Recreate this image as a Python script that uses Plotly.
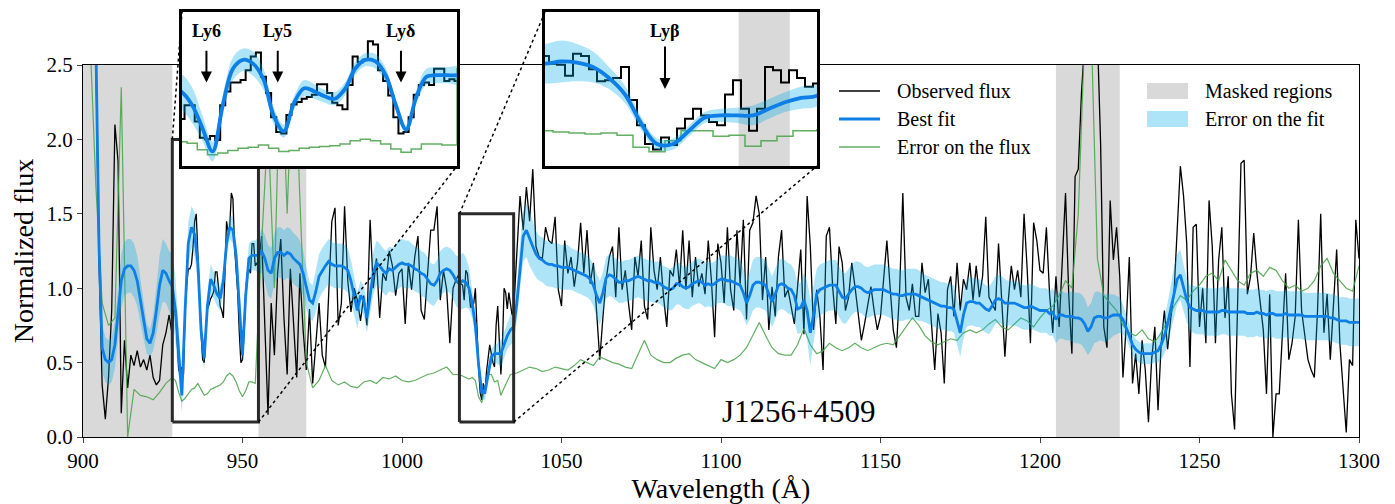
import numpy as np
import plotly.graph_objects as go

# ---------------- data ----------------
# observed flux: 1 A sampling, 0.5 A inside the two zoomed windows
flux_wave = np.concatenate([
    np.arange(900, 928, 1.0), np.arange(928, 955, 0.5), np.arange(955, 1018, 1.0),
    np.arange(1018, 1035, 0.5), np.arange(1035, 1301, 1.0)])
observed_flux = [
    # 900-927
    3.0, 3.0, 3.0, 3.0, 2.6, 1.2, 0.35, 0.12, 0.4, 0.85,
    2.1, 1.85, 0.16, 0.65, 0.33, 0.55, 0.48, 0.58, 0.47, 0.52,
    0.45, 0.55, 0.4, 0.35, 0.38, 0.62, 0.7, 0.82,
    # 928-954.5 (0.5 A)
    0.68, 0.85, 0.85, 0.65, 0.45, 0.43, 0.47, 0.42, 0.85, 1.02,
    1.13, 1.13, 1.16, 1.28, 1.45, 1.5, 1.2, 1.0, 0.7, 0.52,
    0.5, 0.73, 0.86, 0.89, 0.93, 0.95, 0.98, 1.11, 1.11, 1.0,
    0.88, 0.85, 0.8, 1.1, 1.45, 1.38, 1.41, 1.64, 1.6, 1.28,
    1.15, 0.97, 0.7, 0.5, 0.52, 0.7, 0.98, 1.1, 1.13, 1.1,
    1.3, 1.3, 1.15, 1.17,
    # 955-1017
    1.15, 1.35, 0.75, 0.15, 0.9,
    0.55, 1.1, 1.33, 0.8, 0.42, 1.13, 0.8, 0.4, 1.1, 0.72,
    0.45, 0.86, 0.36, 0.65, 0.9, 0.55, 0.47, 0.95, 1.45, 1.54,
    0.75, 0.9, 1.55, 1.05, 0.84, 1.0, 0.92, 0.78, 0.95, 0.75,
    1.46, 1.0, 1.2, 0.8, 1.1, 1.05, 1.25, 1.15, 0.95, 1.1,
    1.13, 0.76, 1.17, 0.99, 1.21, 1.35, 0.85, 0.79, 1.12, 1.39,
    1.39, 1.55, 0.92, 1.12, 0.99, 0.63, 1.0, 1.06,
    # 1018-1034.5 (0.5 A)
    1.1, 1.03, 1.02, 0.92, 1.12, 1.1, 0.98, 0.87, 0.88, 0.9,
    1.0, 0.7, 0.47, 0.3, 0.25, 0.36, 0.29, 0.44, 0.53, 0.62,
    0.56, 0.5, 0.47, 0.75, 0.88, 0.62, 0.42, 0.62, 1.0, 0.97,
    0.86, 0.97, 0.9, 0.82,
    # 1035-1300
    0.85, 1.21, 1.62, 1.39, 1.68,
    1.45, 1.8, 1.28, 1.21, 1.2, 1.41, 1.32, 1.3, 1.48, 0.99,
    0.88, 1.32, 1.1, 1.21, 1.01, 1.17, 1.44, 1.1, 1.39, 1.03,
    1.17, 0.81, 0.52, 0.81, 1.06, 1.21, 1.28, 0.94, 1.41, 0.99,
    1.12, 0.9, 0.72, 1.21, 1.08, 1.32, 0.88, 0.79, 1.41, 1.12,
    0.99, 1.21, 0.94, 0.74, 1.12, 1.08, 1.26, 1.01, 1.39, 0.99,
    1.32, 0.94, 1.21, 1.01, 1.1, 0.96, 1.32, 1.05, 0.67, 1.3,
    1.17, 0.9, 1.41, 0.99, 0.85, 1.39, 1.03, 1.46, 0.79, 1.39,
    1.44, 1.62, 1.5, 0.92, 1.21, 0.72, 1.01, 0.81, 1.21, 1.39,
    0.94, 0.99, 0.88, 0.76, 1.01, 1.26, 0.69, 1.62, 1.28, 0.72,
    0.99, 0.81, 0.45, 1.35, 1.41, 1.01, 0.76, 1.28, 1.17, 0.85,
    0.94, 1.17, 1.01, 0.81, 0.65, 0.76, 0.9, 1.01, 0.85, 0.72,
    0.81, 1.06, 1.32, 1.01, 0.72, 0.6, 0.99, 1.64, 0.94, 0.85,
    1.03, 0.81, 0.81, 1.17, 0.97, 1.06, 0.72, 0.45, 0.83, 0.7,
    0.36, 0.99, 1.08, 0.81, 1.17, 0.85, 1.06, 0.99, 1.17, 0.92,
    1.15, 0.94, 1.08, 1.48, 0.94, 0.9, 0.85, 1.3, 0.94, 0.54,
    0.9, 1.15, 0.99, 1.12, 0.94, 1.5, 1.12, 0.63, 1.44, 1.32,
    1.12, 1.1, 1.41, 0.96, 0.7, 1.08, 0.74, 1.19, 1.64, 0.96,
    0.56, 1.75, 1.8, 2.31, 2.7, 3.0, 3.0, 3.0, 2.7, 1.97,
    0.74, 0.6, 1.59, 1.19, 1.41, 1.08, 0.4, 0.74, 1.21, 0.36,
    0.56, 0.29, 0.65, 0.45, 0.1, 0.52, 0.74, 0.18, 0.63, 0.85,
    0.59, 0.8, 0.96, 1.41, 1.82, 1.62, 1.3, 0.47, 1.41, 1.43,
    0.74, 1.0, 0.63, 1.59, 1.28, 0.63, 1.19, 1.41, 0.8, 1.08,
    0.29, 0.05, 0.96, 1.84, 1.86, 0.96, 1.08, 1.37, 1.1, 0.92,
    0.72, 0.29, 0.96, 0.0, 0.29, 0.29, 0.74, 1.1, 0.52, 0.63,
    0.81, 1.46, 0.85, 0.7, 0.52, 0.45, 0.4, 0.85, 1.5, 0.7,
    0.96, 0.52, 0.92, 1.26, 0.63, 0.34, 0.03, 0.52, 0.48, 1.46,
    1.2,
]

# best fit and its error: 1 A sampling
wave = np.arange(900, 1301, 1.0)
best_fit = [
    3.0, 3.0, 3.0, 3.0, 2.7, 1.3, 0.6, 0.52, 0.5, 0.52,
    0.62, 0.85, 1.05, 1.13, 1.15, 1.15, 1.12, 1.05, 0.92, 0.78,
    0.66, 0.63, 0.7, 0.85, 1.02, 1.12, 1.1, 1.05, 1.01, 0.85,
    0.57, 0.28, 0.85, 1.3, 1.41, 1.36, 1.17, 0.72, 0.53, 0.88,
    1.06, 1.02, 0.96, 0.93, 1.05, 1.3, 1.41, 1.39, 1.22, 0.85,
    0.55, 0.95, 1.2, 1.22, 1.22, 1.22, 1.25, 1.2, 1.12, 1.1,
    1.2, 1.24, 1.24, 1.22, 1.24, 1.23, 1.2, 1.18, 1.16, 1.1,
    1.0, 0.92, 0.9, 0.98, 1.08, 1.12, 1.15, 1.18, 1.16, 1.15,
    1.15, 1.15, 1.14, 1.12, 1.05, 0.95, 0.85, 0.95, 0.92, 0.8,
    0.95, 1.1, 1.17, 1.15, 1.12, 1.1, 1.13, 1.12, 1.14, 1.16,
    1.17, 1.16, 1.16, 1.15, 1.13, 1.12, 1.1, 1.09, 1.06, 1.03,
    1.02, 1.05, 1.1, 1.12, 1.13, 1.12, 1.09, 1.05, 1.03, 1.05,
    1.04, 1.0, 0.9, 0.75, 0.49, 0.3, 0.3, 0.42, 0.54, 0.56,
    0.56, 0.56, 0.62, 0.68, 0.72, 0.74, 0.9, 1.15, 1.35, 1.39,
    1.33, 1.28, 1.23, 1.2, 1.19, 1.17, 1.16, 1.16, 1.15, 1.15,
    1.14, 1.14, 1.14, 1.13, 1.12, 1.11, 1.1, 1.09, 1.08, 1.06,
    1.02, 0.95, 0.9, 0.97, 1.07, 1.09, 1.08, 1.06, 1.04, 1.04,
    1.05, 1.05, 1.06, 1.07, 1.08, 1.07, 1.06, 1.05, 1.05, 1.04,
    1.04, 1.03, 1.01, 1.0, 0.99, 1.0, 1.03, 1.03, 1.01, 1.0,
    1.01, 1.03, 1.04, 1.05, 1.04, 1.02, 1.03, 1.02, 1.03, 1.05,
    1.06, 1.06, 1.05, 1.05, 1.04, 1.03, 1.02, 0.97, 0.9, 0.95,
    1.02, 1.04, 1.04, 1.03, 1.02, 0.96, 0.91, 0.96, 1.02, 1.03,
    1.02, 1.0, 0.99, 0.95, 0.86, 0.87, 0.92, 0.85, 0.7, 0.82,
    0.96, 0.99, 1.0, 1.01, 1.02, 1.02, 1.02, 0.98, 0.94, 0.93,
    0.96, 0.99, 1.01, 1.01, 1.0, 0.98, 0.97, 0.98, 0.99, 0.99,
    0.99, 0.99, 0.98, 0.97, 0.96, 0.96, 0.95, 0.95, 0.96, 0.96,
    0.96, 0.96, 0.95, 0.94, 0.93, 0.92, 0.91, 0.9, 0.89, 0.88,
    0.88, 0.87, 0.87, 0.86, 0.78, 0.7, 0.82, 0.9, 0.91, 0.91,
    0.9, 0.9, 0.88, 0.86, 0.85, 0.88, 0.92, 0.93, 0.92, 0.9,
    0.9, 0.9, 0.9, 0.89, 0.88, 0.87, 0.87, 0.88, 0.87, 0.86,
    0.85, 0.85, 0.85, 0.83, 0.84, 0.79, 0.82, 0.82, 0.81, 0.81,
    0.81, 0.8, 0.8, 0.79, 0.76, 0.71, 0.74, 0.8, 0.81, 0.81,
    0.8, 0.8, 0.81, 0.82, 0.82, 0.82, 0.79, 0.74, 0.68, 0.62,
    0.59, 0.57, 0.56, 0.56, 0.56, 0.56, 0.57, 0.58, 0.62, 0.68,
    0.76, 0.86, 0.97, 1.06, 1.09, 1.0, 0.92, 0.87, 0.86, 0.85,
    0.85, 0.85, 0.84, 0.84, 0.84, 0.84, 0.84, 0.85, 0.85, 0.84,
    0.84, 0.84, 0.84, 0.84, 0.84, 0.83, 0.83, 0.83, 0.84, 0.83,
    0.83, 0.82, 0.83, 0.83, 0.82, 0.82, 0.82, 0.83, 0.82, 0.82,
    0.82, 0.82, 0.82, 0.81, 0.81, 0.81, 0.81, 0.81, 0.81, 0.81,
    0.81, 0.8, 0.8, 0.79, 0.78, 0.78, 0.78, 0.77, 0.77, 0.77,
    0.77,
]

fit_error = [
    0.25, 0.25, 0.25, 0.25, 0.22, 0.18, 0.16, 0.15, 0.15, 0.15,
    0.16, 0.17, 0.18, 0.18, 0.18, 0.18, 0.18, 0.17, 0.15, 0.12,
    0.1, 0.09, 0.12, 0.16, 0.2, 0.21, 0.2, 0.2, 0.22, 0.22,
    0.16, 0.12, 0.12, 0.14, 0.14, 0.15, 0.13, 0.1, 0.08, 0.08,
    0.1, 0.09, 0.08, 0.08, 0.08, 0.08, 0.08, 0.09, 0.09, 0.06,
    0.05, 0.08, 0.1, 0.1, 0.1, 0.12, 0.15, 0.16, 0.17, 0.17,
    0.17, 0.17, 0.17, 0.17, 0.17, 0.17, 0.17, 0.17, 0.16, 0.15,
    0.14, 0.12, 0.12, 0.14, 0.15, 0.15, 0.15, 0.15, 0.15, 0.15,
    0.15, 0.15, 0.15, 0.15, 0.14, 0.13, 0.12, 0.1, 0.1, 0.1,
    0.12, 0.14, 0.15, 0.15, 0.15, 0.15, 0.15, 0.15, 0.16, 0.16,
    0.16, 0.16, 0.16, 0.15, 0.15, 0.15, 0.15, 0.15, 0.15, 0.14,
    0.14, 0.14, 0.15, 0.15, 0.15, 0.15, 0.16, 0.17, 0.18, 0.19,
    0.17, 0.14, 0.1, 0.08, 0.06, 0.05, 0.05, 0.05, 0.05, 0.06,
    0.07, 0.09, 0.09, 0.09, 0.1, 0.1, 0.12, 0.15, 0.17, 0.18,
    0.18, 0.17, 0.16, 0.15, 0.15, 0.15, 0.15, 0.15, 0.15, 0.15,
    0.15, 0.15, 0.15, 0.14, 0.14, 0.14, 0.14, 0.14, 0.14, 0.14,
    0.14, 0.15, 0.15, 0.14, 0.14, 0.14, 0.14, 0.14, 0.14, 0.14,
    0.14, 0.14, 0.14, 0.14, 0.14, 0.14, 0.14, 0.14, 0.14, 0.14,
    0.14, 0.14, 0.14, 0.14, 0.14, 0.14, 0.14, 0.14, 0.14, 0.14,
    0.15, 0.15, 0.15, 0.15, 0.15, 0.15, 0.15, 0.15, 0.15, 0.15,
    0.16, 0.16, 0.17, 0.17, 0.17, 0.17, 0.17, 0.16, 0.15, 0.16,
    0.17, 0.17, 0.17, 0.17, 0.17, 0.17, 0.17, 0.17, 0.17, 0.17,
    0.17, 0.17, 0.17, 0.17, 0.17, 0.17, 0.18, 0.2, 0.22, 0.2,
    0.17, 0.17, 0.17, 0.17, 0.17, 0.17, 0.17, 0.17, 0.17, 0.17,
    0.17, 0.17, 0.17, 0.17, 0.17, 0.17, 0.17, 0.17, 0.17, 0.17,
    0.17, 0.17, 0.17, 0.17, 0.17, 0.17, 0.17, 0.17, 0.17, 0.17,
    0.17, 0.17, 0.17, 0.16, 0.16, 0.16, 0.16, 0.16, 0.16, 0.16,
    0.16, 0.16, 0.16, 0.16, 0.16, 0.16, 0.16, 0.16, 0.16, 0.16,
    0.16, 0.16, 0.16, 0.16, 0.16, 0.16, 0.16, 0.16, 0.16, 0.16,
    0.15, 0.15, 0.15, 0.15, 0.15, 0.15, 0.15, 0.15, 0.15, 0.15,
    0.15, 0.15, 0.15, 0.15, 0.16, 0.16, 0.16, 0.16, 0.16, 0.16,
    0.17, 0.17, 0.17, 0.17, 0.17, 0.16, 0.16, 0.17, 0.17, 0.16,
    0.16, 0.16, 0.15, 0.14, 0.13, 0.12, 0.1, 0.08, 0.07, 0.07,
    0.07, 0.07, 0.07, 0.07, 0.07, 0.07, 0.07, 0.08, 0.1, 0.12,
    0.14, 0.16, 0.17, 0.17, 0.17, 0.16, 0.15, 0.15, 0.16, 0.16,
    0.16, 0.16, 0.16, 0.16, 0.16, 0.16, 0.16, 0.16, 0.16, 0.16,
    0.16, 0.16, 0.16, 0.16, 0.16, 0.16, 0.16, 0.16, 0.16, 0.16,
    0.16, 0.16, 0.16, 0.16, 0.16, 0.16, 0.16, 0.16, 0.16, 0.16,
    0.16, 0.16, 0.16, 0.16, 0.16, 0.16, 0.16, 0.16, 0.16, 0.16,
    0.16, 0.16, 0.16, 0.16, 0.16, 0.16, 0.16, 0.16, 0.16, 0.16,
    0.16,
]

# error on the flux: 2 A sampling, 1 A inside the zoomed windows
err_wave = np.concatenate([
    np.arange(900, 928, 2.0), np.arange(928, 955, 1.0), np.arange(956, 1018, 2.0),
    np.arange(1018, 1035, 1.0), np.arange(1036, 1301, 2.0)])
flux_error = [
    # 900-926
    3.0, 2.8, 1.7, 0.9, 0.75, 0.8, 2.35, 0.0, 0.32, 0.28, 0.27, 0.25, 0.3, 0.36,
    # 928-954
    0.4, 0.38, 0.3, 0.24, 0.26, 0.29, 0.32, 0.33, 0.36, 0.32,
    0.28, 0.29, 0.32, 0.33, 0.34, 0.35, 0.37, 0.41, 0.43, 0.41,
    0.37, 0.31, 0.27, 0.31, 0.37, 0.37, 0.36,
    # 956-1016
    1.3, 2.1, 1.0, 2.7, 1.5, 2.7, 1.6, 0.5, 0.33, 0.38,
    0.48, 0.38, 0.35, 0.37, 0.34, 0.33, 0.37, 0.38, 0.36, 0.4,
    0.39, 0.41, 0.38, 0.37, 0.38, 0.4, 0.42, 0.43, 0.45, 0.47,
    0.42,
    # 1018-1034
    0.42, 0.41, 0.4, 0.39, 0.4, 0.38, 0.27, 0.23, 0.33, 0.42,
    0.42, 0.37, 0.38, 0.28, 0.33, 0.37, 0.42,
    # 1036-1300
    0.43, 0.45,
    0.47, 0.46, 0.44, 0.45, 0.47, 0.46, 0.45, 0.48, 0.52, 0.5,
    0.48, 0.54, 0.52, 0.5, 0.49, 0.47, 0.46, 0.55, 0.65, 0.55,
    0.52, 0.5, 0.5, 0.53, 0.55, 0.56, 0.52, 0.5, 0.48, 0.46,
    0.52, 0.5, 0.52, 0.55, 0.6, 0.68, 0.77, 0.68, 0.6, 0.56,
    0.55, 0.55, 0.62, 0.73, 0.62, 0.56, 0.58, 0.63, 0.6, 0.58,
    0.6, 0.63, 0.6, 0.58, 0.6, 0.62, 0.63, 0.62, 0.68, 0.74,
    0.8, 0.75, 0.68, 0.64, 0.62, 0.64, 0.66, 0.65, 0.7, 0.72,
    0.7, 0.72, 0.76, 0.79, 0.74, 0.72, 0.76, 0.8, 0.78, 0.74,
    0.8, 0.85, 0.88, 0.95, 1.05, 1.0, 1.5, 2.7, 2.8, 1.2,
    0.95, 0.9, 0.85, 0.75, 0.7, 0.68, 0.72, 0.66, 0.64, 0.7,
    0.78, 0.88, 0.95, 0.92, 0.98, 1.02, 1.08, 1.1, 1.05, 1.19,
    1.12, 1.05, 1.02, 1.1, 1.12, 1.08, 1.14, 1.12, 1.05, 1.0,
    1.02, 0.98, 1.0, 1.05, 1.15, 1.2, 1.1, 1.05, 1.0, 0.98,
    1.15,
]

assert len(observed_flux) == len(flux_wave), (len(observed_flux), len(flux_wave))
assert len(best_fit) == len(wave) == len(fit_error), (len(best_fit), len(fit_error))
assert len(flux_error) == len(err_wave), (len(flux_error), len(err_wave))

masked_regions = [(900, 928), (955, 970), (1205, 1225)]
inset_masked_regions = [(1030.1, 1033.3)]

x_ticks = [900, 950, 1000, 1050, 1100, 1150, 1200, 1250, 1300]
y_ticks = [0.0, 0.5, 1.0, 1.5, 2.0, 2.5]

inset_views = [
    dict(xr=(928, 955), yr=(0.1, 2.0),
         lines=[("Ly6", 930.4), ("Ly5", 937.4), ("Lyδ", 949.5)],
         label_y=1.76, arrow_top=1.54, arrow_tip=1.13),
    dict(xr=(1018, 1035), yr=(0.1, 1.5),
         lines=[("Lyβ", 1025.5)],
         label_y=1.33, arrow_top=1.2, arrow_tip=0.8),
]
inset_masks = [[], inset_masked_regions]
object_name = "J1256+4509"

# ---------------- style ----------------
FONT = "Liberation Serif"
BLACK = "#000000"
BLUE = "#0d7fe6"
GREEN = "rgba(70,160,70,0.85)"
BAND = "rgba(0,170,230,0.32)"
GRAY = "#d9d9d9"
BOXC = "#2a2a2a"

# target positions are given in screen pixels; the page adds an 8 px body margin
OFF = 8
W, H = 1395 - OFF, 504 - OFF
SCREEN_L, SCREEN_R, SCREEN_TOP_PAPER, SCREEN_B = 83, 1359, 10, 437
M = dict(l=SCREEN_L - OFF, r=W - (SCREEN_R - OFF), t=SCREEN_TOP_PAPER - OFF,
         b=H - (SCREEN_B - OFF), autoexpand=False)
PW = W - M["l"] - M["r"]
PH = H - M["t"] - M["b"]


def pxx(sx):
    return (sx - OFF - M["l"]) / PW


def pxy(sy):
    return (H - M["b"] - (sy - OFF)) / PH


MAIN_TOP = 65
main_ydom = [0.0, pxy(MAIN_TOP)]
XR = (900, 1300)
YR = (0.0, 2.5)
inset_px = [(182, 457, 12, 166), (545, 817, 12, 166)]  # left, right, top, bottom (screen)


def to_paper(lam, v):
    return ((lam - XR[0]) / (XR[1] - XR[0]),
            main_ydom[0] + (v - YR[0]) / (YR[1] - YR[0]) * (main_ydom[1] - main_ydom[0]))


wave_l = list(wave)
upper = [f + e for f, e in zip(best_fit, fit_error)]
lower = [f - e for f, e in zip(best_fit, fit_error)]
band_x = wave_l + wave_l[::-1]
band_y = upper + lower[::-1]

fig = go.Figure()


def add_spectrum(xa, ya, inset):
    shape_obs = "hvh" if inset else "linear"
    fig.add_trace(go.Scatter(x=flux_wave, y=observed_flux, mode="lines",
                             line=dict(color=BLACK, width=2.0 if inset else 1.3, shape=shape_obs),
                             xaxis=xa, yaxis=ya, showlegend=False, hoverinfo="skip"))
    fig.add_trace(go.Scatter(x=err_wave, y=flux_error, mode="lines",
                             line=dict(color=GREEN, width=1.5 if inset else 1.2, shape=shape_obs),
                             xaxis=xa, yaxis=ya, showlegend=False, hoverinfo="skip"))
    fig.add_trace(go.Scatter(x=band_x, y=band_y, mode="lines", fill="toself",
                             fillcolor=BAND, line=dict(width=0, shape="spline" if inset else "linear"),
                             xaxis=xa, yaxis=ya, showlegend=False, hoverinfo="skip"))
    fig.add_trace(go.Scatter(x=wave, y=best_fit, mode="lines",
                             line=dict(color=BLUE, width=3.8 if inset else 2.8,
                                       shape="spline" if inset else "linear"),
                             xaxis=xa, yaxis=ya, showlegend=False, hoverinfo="skip"))


# main panel
add_spectrum("x", "y", False)
for view in inset_views:
    x0, x1 = view["xr"]
    y0, y1 = view["yr"]
    fig.add_trace(go.Scatter(x=[x0, x1, x1, x0, x0], y=[y0, y0, y1, y1, y0], mode="lines",
                             line=dict(color=BOXC, width=3), xaxis="x", yaxis="y",
                             showlegend=False, hoverinfo="skip"))

# insets
for i, view in enumerate(inset_views):
    add_spectrum("x%d" % (i + 2), "y%d" % (i + 2), True)

shapes = []
annotations = []
for a, b in masked_regions:
    shapes.append(dict(type="rect", xref="x", yref="y", x0=a, x1=b, y0=YR[0], y1=YR[1],
                       fillcolor=GRAY, line=dict(width=0), layer="below"))

for i, view in enumerate(inset_views):
    xa, ya = "x%d" % (i + 2), "y%d" % (i + 2)
    for a, b in inset_masks[i]:
        shapes.append(dict(type="rect", xref=xa, yref=ya, x0=a, x1=b,
                           y0=view["yr"][0], y1=view["yr"][1],
                           fillcolor=GRAY, line=dict(width=0), layer="below"))
    for name, lam in view["lines"]:
        annotations.append(dict(xref=xa, yref=ya, x=lam, y=view["label_y"], text="<b>%s</b>" % name,
                                showarrow=False, font=dict(family=FONT, size=18, color=BLACK),
                                xanchor="center", yanchor="middle"))
        annotations.append(dict(xref=xa, yref=ya, x=lam, y=view["arrow_tip"], ax=lam,
                                ay=view["arrow_top"], axref=xa, ayref=ya, text="",
                                showarrow=True, arrowhead=2, arrowsize=1.1, arrowwidth=2,
                                arrowcolor=BLACK))
    # dotted connectors
    l, r, t, bt = inset_px[i]
    bx0, by1 = to_paper(view["xr"][0], view["yr"][1])
    bx1, by0 = to_paper(view["xr"][1], view["yr"][0])
    shapes.append(dict(type="line", xref="paper", yref="paper", x0=bx0, y0=by1,
                       x1=pxx(l), y1=pxy(t), line=dict(color=BLACK, width=1.5, dash="dot"),
                       layer="above"))
    shapes.append(dict(type="line", xref="paper", yref="paper", x0=bx1, y0=by0,
                       x1=pxx(r), y1=pxy(bt), line=dict(color=BLACK, width=1.5, dash="dot"),
                       layer="above"))

# hand-made legend (two columns)
legend_lines = [("Observed flux", BLACK, 1.4), ("Best fit", BLUE, 3.2), ("Error on the flux", GREEN, 1.4)]
legend_patches = [("Masked regions", GRAY), ("Error on the fit", BAND)]
LEG_ROWS = [91, 119, 147]
for (label, col, w), py in zip(legend_lines, LEG_ROWS):
    shapes.append(dict(type="line", xref="paper", yref="paper", x0=pxx(839), x1=pxx(880),
                       y0=pxy(py), y1=pxy(py), line=dict(color=col, width=w), layer="above"))
    annotations.append(dict(xref="paper", yref="paper", x=pxx(895), y=pxy(py), text=label,
                            showarrow=False, xanchor="left", yanchor="middle",
                            font=dict(family=FONT, size=20, color=BLACK)))
for (label, col), py in zip(legend_patches, LEG_ROWS):
    shapes.append(dict(type="rect", xref="paper", yref="paper", x0=pxx(1147), x1=pxx(1188),
                       y0=pxy(py + 8), y1=pxy(py - 8), fillcolor=col, line=dict(width=0),
                       layer="above"))
    annotations.append(dict(xref="paper", yref="paper", x=pxx(1203), y=pxy(py), text=label,
                            showarrow=False, xanchor="left", yanchor="middle",
                            font=dict(family=FONT, size=20, color=BLACK)))

annotations.append(dict(xref="x", yref="y", x=1124.6, y=0.17, text=object_name, showarrow=False,
                        xanchor="center", yanchor="middle",
                        font=dict(family=FONT, size=31, color=BLACK)))

axis_common = dict(showgrid=False, zeroline=False, showline=True, linecolor=BLACK, mirror=True,
                   automargin=False)
inset_axis = dict(showgrid=False, zeroline=False, showline=True, linecolor=BLACK, linewidth=3,
                  mirror=True, showticklabels=False, ticks="", fixedrange=True, automargin=False)

layout = dict(
    width=W, height=H, margin=M,
    paper_bgcolor="white", plot_bgcolor="white",
    font=dict(family=FONT, size=21, color=BLACK),
    showlegend=False,
    xaxis=dict(domain=[0, 1], range=list(XR), tickvals=x_ticks, ticks="outside", ticklen=5,
               tickwidth=1.2, linewidth=1.2, tickfont=dict(family=FONT, size=21),
               title=dict(text="Wavelength (Å)", font=dict(family=FONT, size=28), standoff=2),
               anchor="y", **axis_common),
    yaxis=dict(domain=main_ydom, range=list(YR), tickvals=y_ticks, tickformat=".1f",
               ticks="outside", ticklen=5, tickwidth=1.2, linewidth=1.2,
               tickfont=dict(family=FONT, size=21),
               title=dict(text="Normalized flux", font=dict(family=FONT, size=28), standoff=4),
               anchor="x", **axis_common),
    shapes=shapes,
    annotations=annotations,
)
for i, view in enumerate(inset_views):
    l, r, t, bt = inset_px[i]
    layout["xaxis%d" % (i + 2)] = dict(domain=[pxx(l), pxx(r)], range=list(view["xr"]),
                                        anchor="y%d" % (i + 2), **inset_axis)
    layout["yaxis%d" % (i + 2)] = dict(domain=[pxy(bt), pxy(t)], range=list(view["yr"]),
                                        anchor="x%d" % (i + 2), **inset_axis)

fig.update_layout(**layout)
fig.write_html("out.html")
